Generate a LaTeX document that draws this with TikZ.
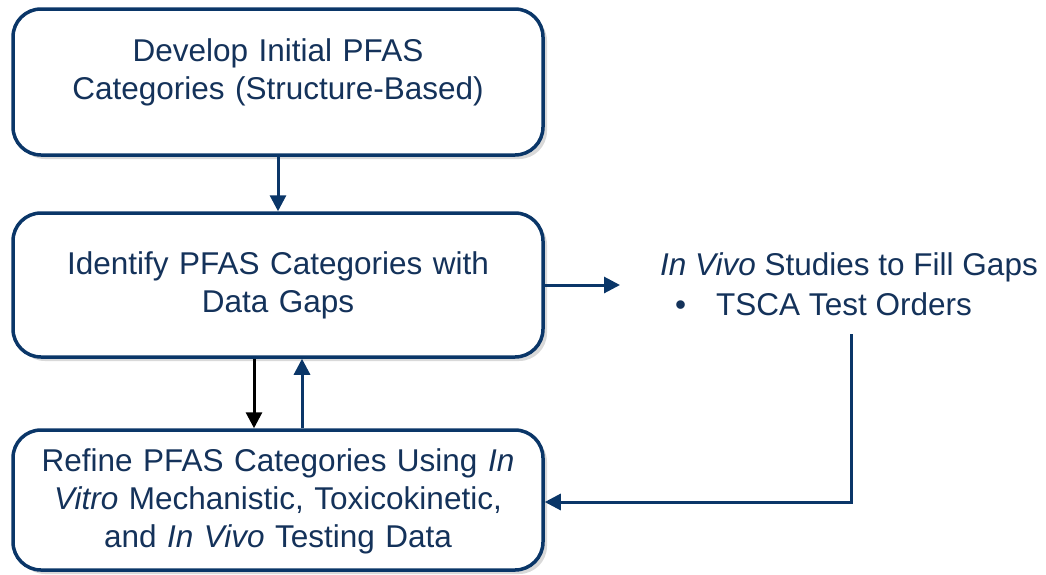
\documentclass[tikz,border=0pt]{standalone}
\usepackage{fontspec}
\setmainfont{Liberation Sans}
\usetikzlibrary{arrows.meta,shadows}
\definecolor{navy}{RGB}{10,54,104}
\definecolor{txt}{RGB}{20,50,90}
\begin{document}
\begin{tikzpicture}[x=1pt,y=-1pt,
  box/.style={draw=navy,line width=3.5pt,rounded corners=28pt,fill=white,
    minimum width=530pt,text width=500pt,align=center,inner sep=0pt,
    font=\fontsize{31.5}{38}\selectfont,text=txt,
    drop shadow={shadow xshift=4pt,shadow yshift=-4pt,opacity=0.3,fill=gray}},
  conn/.style={draw=navy,line width=3pt,-{Triangle[length=16pt,width=16pt]}},
  lbl/.style={font=\fontsize{31.5}{38}\selectfont,text=txt,align=left,inner sep=0pt}]
\useasboundingbox (0,0) rectangle (1046,574);
\node[box,minimum height=146pt] (b1) at (278,82) {Develop Initial PFAS\\Categories (Structure-Based)\\[-12pt]\mbox{}};
\node[box,minimum height=144pt] (b2) at (278,285) {Identify PFAS Categories with\\Data Gaps};
\node[box,minimum height=140pt] (b3) at (278,500) {\rule{0pt}{26pt}Refine PFAS Categories Using \textit{In}\\\textit{Vitro} Mechanistic, Toxicokinetic,\\and \textit{In Vivo} Testing Data};
\node[lbl,anchor=west] (t1) at (660,267) {\textit{In Vivo} Studies to Fill Gaps};
\node[lbl,anchor=west] (t2) at (675,304) {•\hspace{30pt}TSCA Test Orders};
\coordinate (a) at (620,285);
\coordinate (c1) at (851,334);
\coordinate (c2) at (851,502);
\draw[conn] (b1.south) -- (b2.north);
\draw[conn,draw=black] ([xshift=-24pt]b2.south) -- ([xshift=-24pt]b3.north);
\draw[conn] ([xshift=24pt]b3.north) -- ([xshift=24pt]b2.south);
\draw[conn] (b2.east) -- (a);
\draw[conn] (c1) -- (c2) -- (b3.east |- c2);
\end{tikzpicture}
\end{document}
